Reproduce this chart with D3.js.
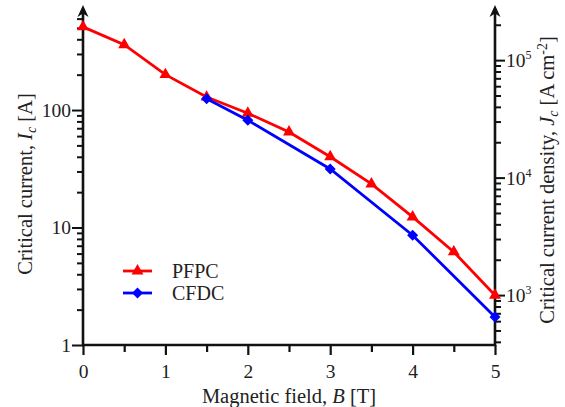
<!DOCTYPE html>
<html>
<head>
<meta charset="utf-8">
<script src="https://cdn.jsdelivr.net/npm/d3@7"></script>
<style>
  body { margin: 0; background: #fff; }
  svg { display: block; }
</style>
</head>
<body>
<svg id="chart" width="565" height="407"></svg>
<script>
// Critical current vs. magnetic field for two conductor types
const fieldT = [0, 0.5, 1, 1.5, 2, 2.5, 3, 3.5, 4, 4.5, 5];
const pfpcIc = [510, 360, 200, 129, 94, 65, 40, 23.5, 12.3, 6.2, 2.65];
const cfdcField = [1.5, 2, 3, 4, 5];
const cfdcIc = [125, 82, 31.5, 8.6, 1.73];

const xTickValues = [0, 1, 2, 3, 4, 5];
const xMinorValues = [0.5, 1.5, 2.5, 3.5, 4.5];
const icLabelValues = [1, 10, 100];
const jcLabelExps = [3, 4, 5];
const jcPerAmp = 376;          // A cm^-2 per ampere of critical current
const icMax = 683;

// pick the first installed serif face
function pickSerif() {
  const cands = ["Liberation Serif", "Tinos", "Times New Roman", "Nimbus Roman",
                 "Nimbus Roman No9 L", "DejaVu Serif", "Noto Serif", "FreeSerif"];
  const ctx = document.createElement("canvas").getContext("2d");
  const sample = "Magnetic field 0123456789 mmmWWiil";
  const w = f => { ctx.font = `40px ${f}`; return ctx.measureText(sample).width; };
  const base = ["monospace", "sans-serif"].map(w);
  for (const c of cands) {
    const ws = ["monospace", "sans-serif"].map(b => w(`"${c}", ${b}`));
    if (ws[0] !== base[0] || ws[1] !== base[1]) return `"${c}", serif`;
  }
  return "serif";
}
const FONT = pickSerif();

const svg = d3.select("#chart");
const plot = { left: 83, right: 495, top: 12, bottom: 345 };

const x = d3.scaleLinear().domain([0, 5]).range([plot.left, plot.right]);
const yI = d3.scaleLog().domain([1, icMax]).range([plot.bottom, plot.top]);
const yJ = d3.scaleLog().domain([jcPerAmp, icMax * jcPerAmp]).range([plot.bottom, plot.top]);

// log tick positions (1..9 per decade) inside a domain
function logTicks(lo, hi) {
  const out = [];
  for (let e = Math.floor(Math.log10(lo)); e <= Math.ceil(Math.log10(hi)); e++) {
    for (let m = 1; m <= 9; m++) {
      const v = m * Math.pow(10, e);
      if (v >= lo * 0.999 && v <= hi) out.push(v);
    }
  }
  return out;
}
const isPow10 = v => Math.abs(Math.log10(v) - Math.round(Math.log10(v))) < 1e-9;

const axisStroke = "#111";
const textFill = "#222";
const tickFont = 19.5;
const titleFont = 20.5;

// ---- x axis
const gx = svg.append("g").attr("transform", `translate(0,${plot.bottom})`)
  .call(d3.axisBottom(x).tickValues(xTickValues.concat(xMinorValues))
    .tickFormat(d => xTickValues.includes(d) ? d3.format("d")(d) : "")
    .tickSize(10).tickPadding(9));
gx.attr("font-family", FONT);
gx.select(".domain").remove();
gx.selectAll(".tick line").attr("stroke", axisStroke).attr("stroke-width", 2.2)
  .attr("y2", d => xTickValues.includes(d) ? 10 : 7);
gx.selectAll(".tick text").attr("font-size", tickFont).attr("fill", textFill);

// ---- left axis
const iTicks = logTicks(1, icMax);
const gl = svg.append("g").attr("transform", `translate(${plot.left},0)`)
  .call(d3.axisLeft(yI).tickValues(iTicks)
    .tickFormat(d => icLabelValues.includes(d) ? String(d) : "")
    .tickSize(10).tickPadding(2));
gl.attr("font-family", FONT);
gl.select(".domain").remove();
gl.selectAll(".tick line").attr("stroke", axisStroke).attr("stroke-width", 2)
  .attr("x2", d => isPow10(d) ? -11 : -6);
gl.selectAll(".tick text").attr("font-size", tickFont).attr("fill", textFill);

// ---- right axis
const jTicks = logTicks(jcPerAmp, icMax * jcPerAmp);
const gr = svg.append("g").attr("transform", `translate(${plot.right},0)`)
  .call(d3.axisRight(yJ).tickValues(jTicks).tickFormat("").tickSize(10).tickPadding(2));
gr.select(".domain").remove();
gr.selectAll(".tick line").attr("stroke", axisStroke).attr("stroke-width", 2)
  .attr("x2", d => isPow10(d) ? 10 : 6);
jcLabelExps.forEach(e => {
  const t = svg.append("text").attr("x", plot.right + 11).attr("y", yJ(Math.pow(10, e)) + 7)
    .attr("font-family", FONT).attr("font-size", tickFont).attr("fill", textFill);
  t.append("tspan").text("10");
  t.append("tspan").attr("font-size", 12).attr("dy", -8).text(String(e));
});

// ---- axis lines with arrow heads
function arrowHead(cx, tipY) {
  return `M${cx},${tipY} L${cx + 5.5},${tipY + 12} L${cx},${tipY + 8.5} L${cx - 5.5},${tipY + 12} Z`;
}
svg.append("line").attr("x1", plot.left - 1).attr("x2", plot.right + 1)
  .attr("y1", plot.bottom).attr("y2", plot.bottom)
  .attr("stroke", axisStroke).attr("stroke-width", 2.6);
[plot.left, plot.right].forEach(cx => {
  svg.append("line").attr("x1", cx).attr("x2", cx)
    .attr("y1", plot.bottom + 1).attr("y2", 12)
    .attr("stroke", axisStroke).attr("stroke-width", 2.6);
  svg.append("path").attr("d", arrowHead(cx, 5)).attr("fill", axisStroke);
});

// ---- series
const line = d3.line().x(d => x(d[0])).y(d => yI(d[1]));
const pfpc = fieldT.map((b, i) => [b, pfpcIc[i]]);
const cfdc = cfdcField.map((b, i) => [b, cfdcIc[i]]);

const triangle = d3.symbol().type(d3.symbolTriangle).size(62);
const diamondPath = "M0,-5.5L5.5,0L0,5.5L-5.5,0Z";

svg.append("path").datum(pfpc).attr("d", line)
  .attr("fill", "none").attr("stroke", "#ff0000").attr("stroke-width", 2.8);
svg.append("g").selectAll("path").data(pfpc).join("path")
  .attr("d", triangle).attr("transform", d => `translate(${x(d[0])},${yI(d[1])})`)
  .attr("fill", "#ff0000");

svg.append("path").datum(cfdc).attr("d", line)
  .attr("fill", "none").attr("stroke", "#0000ff").attr("stroke-width", 2.8);
svg.append("g").selectAll("path").data(cfdc).join("path")
  .attr("d", diamondPath).attr("transform", d => `translate(${x(d[0])},${yI(d[1])})`)
  .attr("fill", "#0000ff");

// ---- legend
const legend = [
  { name: "PFPC", color: "#ff0000", sym: triangle(), y: 271 },
  { name: "CFDC", color: "#0000ff", sym: diamondPath, y: 293 }
];
legend.forEach(l => {
  svg.append("line").attr("x1", 123).attr("x2", 152).attr("y1", l.y).attr("y2", l.y)
    .attr("stroke", l.color).attr("stroke-width", 2.8);
  svg.append("path").attr("d", l.sym).attr("transform", `translate(137.5,${l.y})`).attr("fill", l.color);
  svg.append("text").attr("x", 172).attr("y", l.y + 7)
    .attr("font-family", FONT).attr("font-size", 20).attr("fill", textFill).text(l.name);
});

// ---- axis titles
const xt = svg.append("text").attr("x", (plot.left + plot.right) / 2).attr("y", 403)
  .attr("text-anchor", "middle").attr("font-family", FONT).attr("font-size", titleFont).attr("fill", textFill);
xt.append("tspan").text("Magnetic field, ");
xt.append("tspan").attr("font-style", "italic").text("B");
xt.append("tspan").text(" [T]");

const lt = svg.append("text").attr("transform", "translate(32,184) rotate(-90)")
  .attr("text-anchor", "middle").attr("font-family", FONT).attr("font-size", titleFont).attr("fill", textFill);
lt.append("tspan").text("Critical current, ");
lt.append("tspan").attr("font-style", "italic").text("I");
lt.append("tspan").attr("font-style", "italic").attr("font-size", 14).attr("dy", 4).text("c");
lt.append("tspan").attr("dy", -4).text(" [A]");

const rt = svg.append("text").attr("transform", "translate(554,180) rotate(-90)")
  .attr("text-anchor", "middle").attr("font-family", FONT).attr("font-size", titleFont).attr("fill", textFill);
rt.append("tspan").text("Critical current density, ");
rt.append("tspan").attr("font-style", "italic").text("J");
rt.append("tspan").attr("font-style", "italic").attr("font-size", 14).attr("dy", 4).text("c");
rt.append("tspan").attr("dy", -4).text(" [A cm");
rt.append("tspan").attr("font-size", 14).attr("dy", -7).text("-2");
rt.append("tspan").attr("dy", 7).text("]");
</script>
</body>
</html>
